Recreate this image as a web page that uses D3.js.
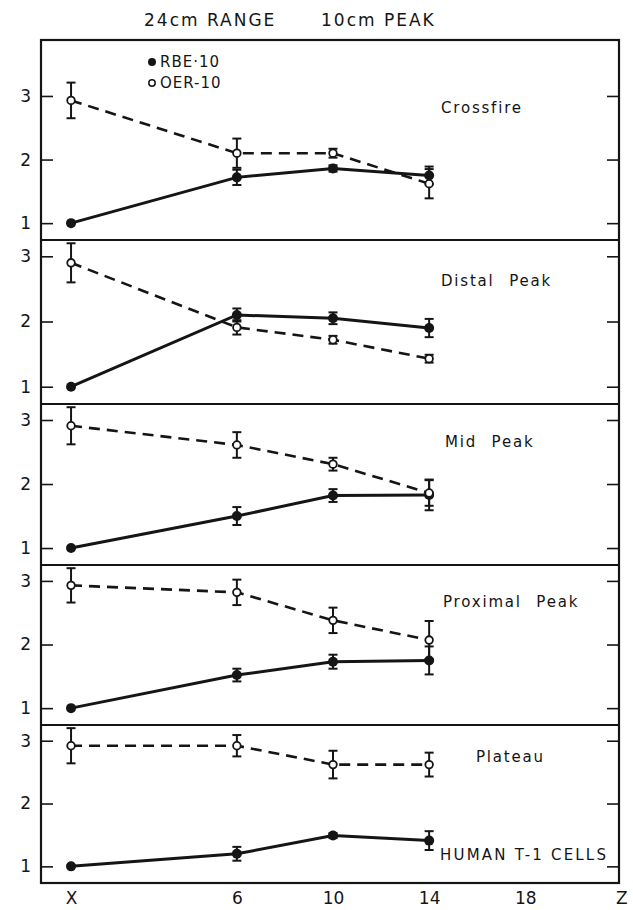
<!DOCTYPE html>
<html>
<head>
<meta charset="utf-8">
<script src="https://cdn.jsdelivr.net/npm/d3@7"></script>
<style>
  body { margin: 0; background: #fff; }
  svg text { font-family: "DejaVu Sans", sans-serif; fill: #151515; }
</style>
</head>
<body>
<svg id="chart" width="633" height="910"></svg>
<script>
// Depth axis: "X" is the x-ray reference column, numbers are depth in cm
const depthLabels = ["X", "6", "10", "14", "18", "Z"];
const depthTicks = [-0.9, 6, 10, 14, 18, 22];
const sampleDepths = [-0.9, 6, 10, 14];

const panelNames = ["Crossfire", "Distal Peak", "Mid Peak", "Proximal Peak", "Plateau"];
const yTicks = [1, 2, 3];

// RBE-10 (filled) per panel, and its error half-widths
const rbeMeans = [
  [1.0, 1.72, 1.86, 1.75],
  [1.0, 2.10, 2.05, 1.90],
  [1.0, 1.50, 1.82, 1.83],
  [1.0, 1.52, 1.73, 1.75],
  [1.0, 1.20, 1.49, 1.41]
];
const rbeErrors = [
  [0, 0.12, 0.05, 0.14],
  [0, 0.10, 0.09, 0.14],
  [0, 0.14, 0.10, 0.24],
  [0, 0.10, 0.11, 0.22],
  [0, 0.11, 0.04, 0.15]
];

// OER-10 (open) per panel, and its error half-widths
const oerMeans = [
  [2.93, 2.10, 2.10, 1.62],
  [2.90, 1.91, 1.72, 1.43],
  [2.91, 2.61, 2.31, 1.86],
  [2.93, 2.82, 2.38, 2.07],
  [2.92, 2.92, 2.62, 2.62]
];
const oerErrors = [
  [0.28, 0.23, 0.07, 0.23],
  [0.30, 0.11, 0.06, 0.06],
  [0.29, 0.20, 0.10, 0.20],
  [0.27, 0.20, 0.20, 0.30],
  [0.28, 0.17, 0.22, 0.19]
];

const titleParts = ["24cm RANGE", "10cm PEAK"];
const legendLabels = ["RBE·10", "OER-10"];
const footnote = "HUMAN T-1 CELLS";

// ---- layout ----
const left = 41, right = 619;
const panelEdges = [40, 240, 404, 565, 725, 883];
const labelPos = [
  { x: 441, y: 108 },
  { x: 441, y: 281 },
  { x: 445, y: 442 },
  { x: 443, y: 602 },
  { x: 476, y: 757 }
];

const svg = d3.select("#chart");
const x = d3.scaleLinear().domain([-2.15, 21.9]).range([left, right]);

const ink = "#151515";

// title
svg.append("text").attr("x", 144).attr("y", 26)
  .attr("font-size", 17).attr("letter-spacing", 2).text(titleParts[0]);
svg.append("text").attr("x", 321).attr("y", 26)
  .attr("font-size", 17).attr("letter-spacing", 2).text(titleParts[1]);

panelNames.forEach((name, i) => {
  const top = panelEdges[i], bottom = panelEdges[i + 1];
  const y = d3.scaleLinear()
    .domain([0.735, i === 0 ? 3.88 : 3.25])
    .range([bottom, top]);
  const g = svg.append("g");

  // left axis: inward ticks, labels outside
  const la = g.append("g").attr("transform", `translate(${left},0)`)
    .call(d3.axisLeft(y).tickValues(yTicks).tickSize(-12).tickPadding(10).tickFormat(d3.format("d")));
  la.select(".domain").remove();
  la.selectAll("line").attr("stroke", ink).attr("stroke-width", 1.6);
  la.selectAll("text").attr("font-size", 17).attr("font-family", "DejaVu Sans").attr("fill", ink);

  // right axis: inward ticks only
  const ra = g.append("g").attr("transform", `translate(${right},0)`)
    .call(d3.axisRight(y).tickValues(yTicks).tickSize(-12).tickFormat(""));
  ra.select(".domain").remove();
  ra.selectAll("line").attr("stroke", ink).attr("stroke-width", 1.6);

  // panel border
  g.append("line").attr("x1", left).attr("x2", right).attr("y1", bottom).attr("y2", bottom)
    .attr("stroke", ink).attr("stroke-width", 2.2);

  const rbePts = sampleDepths.map((d, k) => ({ d, v: rbeMeans[i][k], e: rbeErrors[i][k] }));
  const oerPts = sampleDepths.map((d, k) => ({ d, v: oerMeans[i][k], e: oerErrors[i][k] }));

  const line = d3.line().x(p => x(p.d)).y(p => y(p.v));

  // error bars
  const drawErr = (pts) => {
    pts.filter(p => p.e > 0).forEach(p => {
      const cx = x(p.d), y1 = y(p.v + p.e), y2 = y(p.v - p.e);
      g.append("line").attr("x1", cx).attr("x2", cx).attr("y1", y1).attr("y2", y2)
        .attr("stroke", ink).attr("stroke-width", 2);
      [y1, y2].forEach(yy => g.append("line")
        .attr("x1", cx - 4.5).attr("x2", cx + 4.5).attr("y1", yy).attr("y2", yy)
        .attr("stroke", ink).attr("stroke-width", 2));
    });
  };
  drawErr(oerPts);
  drawErr(rbePts);

  g.append("path").attr("d", line(oerPts)).attr("fill", "none")
    .attr("stroke", ink).attr("stroke-width", 2.6).attr("stroke-dasharray", "11,7");
  g.append("path").attr("d", line(rbePts)).attr("fill", "none")
    .attr("stroke", ink).attr("stroke-width", 3);

  g.selectAll(".rbe").data(rbePts).join("circle").attr("class", "rbe")
    .attr("cx", p => x(p.d)).attr("cy", p => y(p.v)).attr("r", 5).attr("fill", ink);
  g.selectAll(".oer").data(oerPts).join("circle").attr("class", "oer")
    .attr("cx", p => x(p.d)).attr("cy", p => y(p.v)).attr("r", 3.8)
    .attr("fill", "#fff").attr("stroke", ink).attr("stroke-width", 1.8);

  g.append("text").attr("x", labelPos[i].x).attr("y", labelPos[i].y).attr("dy", "0.35em")
    .attr("font-size", 15).attr("letter-spacing", 1.8).attr("word-spacing", 8).text(name);
});

// outer frame
svg.append("rect").attr("x", left).attr("y", panelEdges[0])
  .attr("width", right - left).attr("height", panelEdges[5] - panelEdges[0])
  .attr("fill", "none").attr("stroke", ink).attr("stroke-width", 2.2);

// legend
svg.append("circle").attr("cx", 152).attr("cy", 62).attr("r", 4).attr("fill", ink);
svg.append("text").attr("x", 160).attr("y", 62).attr("dy", "0.35em")
  .attr("font-size", 15).attr("letter-spacing", 1).text(legendLabels[0]);
svg.append("circle").attr("cx", 152).attr("cy", 83).attr("r", 3.2)
  .attr("fill", "#fff").attr("stroke", ink).attr("stroke-width", 1.5);
svg.append("text").attr("x", 160).attr("y", 83).attr("dy", "0.35em")
  .attr("font-size", 15).attr("letter-spacing", 1).text(legendLabels[1]);

svg.append("text").attr("x", 440).attr("y", 855).attr("dy", "0.35em")
  .attr("font-size", 15).attr("letter-spacing", 2.2).text(footnote);

// depth axis
const xa = svg.append("g").attr("transform", `translate(0,${panelEdges[5]})`)
  .call(d3.axisBottom(x).tickValues(depthTicks).tickSize(0).tickPadding(9)
    .tickFormat((d, k) => depthLabels[k]));
xa.select(".domain").remove();
xa.selectAll("text").attr("font-size", 17).attr("font-family", "DejaVu Sans").attr("fill", ink);
</script>
</body>
</html>
